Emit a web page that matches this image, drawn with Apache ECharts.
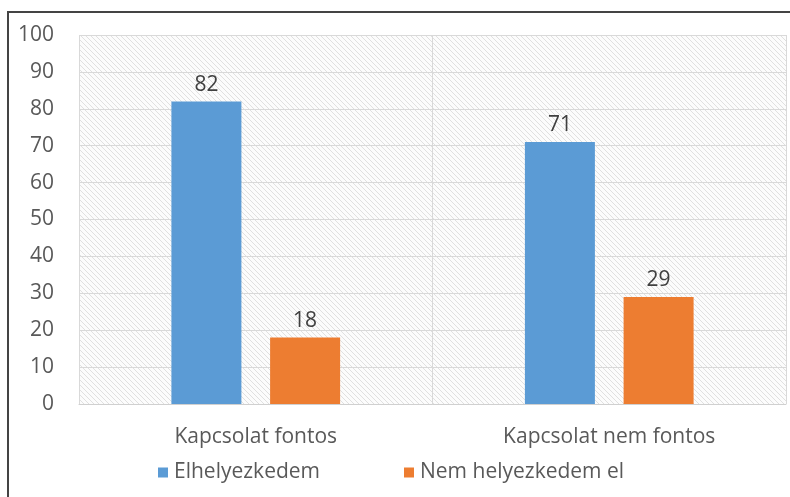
<!DOCTYPE html>
<html><head><meta charset="utf-8">
<script src="https://cdn.jsdelivr.net/npm/echarts@6/dist/echarts.min.js"></script>
<style>html,body{margin:0;padding:0;background:#fff}#c{width:790px;height:497px}</style>
</head><body><div id="c"></div>
<script>
var categories = ['Kapcsolat fontos', 'Kapcsolat nem fontos'];
var seriesNames = ['Elhelyezkedem', 'Nem helyezkedem el'];
var elhelyezkedem = [82, 71];
var nemHelyezkedem = [18, 29];

var pc = document.createElement('canvas');
pc.width = 5; pc.height = 5;
var ctx = pc.getContext('2d');
ctx.fillStyle = '#fcfcfc'; ctx.fillRect(0,0,5,5);
ctx.strokeStyle = '#e0e0e0'; ctx.lineWidth = 1;
ctx.beginPath();
ctx.moveTo(-1,-1); ctx.lineTo(6,6);
ctx.moveTo(-1,4); ctx.lineTo(1,6);
ctx.moveTo(4,-1); ctx.lineTo(6,1);
ctx.stroke();

var font = 'Open Sans';
var fs = 21;
var chart = echarts.init(document.getElementById('c'));
chart.setOption({
  animation: false,
  textStyle: {fontFamily: font},
  graphic: [{type:'rect', shape:{x:8, y:12, width:800, height:500}, style:{fill:'none', stroke:'#444', lineWidth:2}, z:100}],
  grid: {left:79, right:4, top:35, bottom:93, show:true, borderWidth:0, backgroundColor:{image: pc, repeat:'repeat'}},
  legend: {top: 457, left: 153, itemWidth: 10, itemHeight: 10, itemGap: 84, icon: 'rect',
    textStyle: {fontFamily: font, fontSize: fs, color: '#595959', padding:[0,0,0,1]}},
  xAxis: {type:'category', data: categories,
    axisLine: {lineStyle: {color:'#d0d0d0'}}, axisTick: {show:false},
    splitLine: {show:true, lineStyle:{color:'#d9d9d9'}},
    axisLabel: {fontSize: fs, color:'#595959', margin: 23, fontFamily: font}},
  yAxis: {type:'value', min:0, max:100, interval:10,
    axisLabel: {fontSize: fs, color:'#595959', margin: 25, fontFamily: font},
    splitLine: {lineStyle:{color:'#d9d9d9'}}},
  series: [
    {name: seriesNames[0], type:'bar', data: elhelyezkedem, barWidth: 70, barGap: '41%',
      itemStyle:{color:'#5b9bd5'},
      label:{show:true, position:'top', distance: 6, fontSize:fs, color:'#404040', fontFamily: font}},
    {name: seriesNames[1], type:'bar', data: nemHelyezkedem, barWidth: 70,
      itemStyle:{color:'#ed7d31'},
      label:{show:true, position:'top', distance: 6, fontSize:fs, color:'#404040', fontFamily: font}}
  ]
});
</script></body></html>
